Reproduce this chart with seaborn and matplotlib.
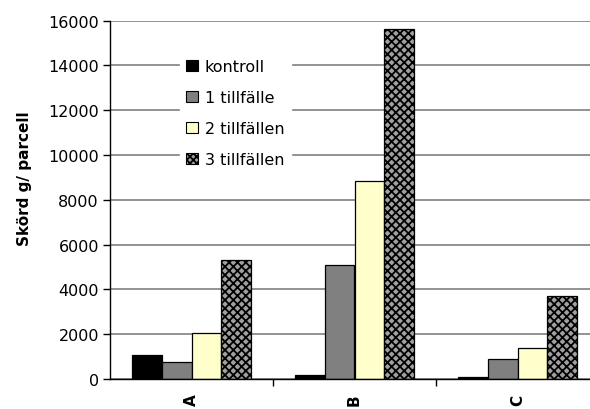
import matplotlib
matplotlib.use("Agg")
import matplotlib.pyplot as plt
from matplotlib.patches import Patch
import seaborn as sns
import pandas as pd

# Harvest per plot for three sites and four treatments
categories = ["A", "B", "C"]
series = ["kontroll", "1 tillfälle", "2 tillfällen", "3 tillfällen"]
kontroll = [1050, 200, 100]
tillfalle_1 = [750, 5100, 900]
tillfallen_2 = [2050, 8850, 1400]
tillfallen_3 = [5300, 15600, 3700]
y_ticks = [0, 2000, 4000, 6000, 8000, 10000, 12000, 14000, 16000]

colors = ["#000000", "#808080", "#FFFFCC", "#A0A0A0"]

values = [kontroll, tillfalle_1, tillfallen_2, tillfallen_3]
rows = []
for s, vals in zip(series, values):
    for c, v in zip(categories, vals):
        rows.append({"plats": c, "behandling": s, "skord": v})
df = pd.DataFrame(rows)

sns.set_style("white")
plt.rcParams["font.family"] = ["DejaVu Sans"]
plt.rcParams["text.color"] = "black"
plt.rcParams["axes.labelcolor"] = "black"
plt.rcParams["xtick.color"] = "black"
plt.rcParams["ytick.color"] = "black"
plt.rcParams["hatch.color"] = "#1a1a1a"
plt.rcParams["hatch.linewidth"] = 1.3

fig = plt.figure(figsize=(5.9, 4.1), dpi=100)
ax = fig.add_axes([110 / 590, 30 / 410, 480 / 590, 358.5 / 410])

sns.barplot(data=df, x="plats", y="skord", hue="behandling", order=categories,
            hue_order=series, palette=colors, saturation=1, width=0.73,
            edgecolor="black", linewidth=0.9, ax=ax, legend=False, errorbar=None)

# Cross-hatch the last treatment
n = len(categories)
for p in ax.patches[3 * n:4 * n]:
    p.set_hatch("xxxx")

ax.set_ylim(0, 16000)
ax.set_xlim(-0.5, 480 / 163 - 0.5)
ax.set_yticks(y_ticks)
ax.set_yticklabels([str(t) for t in y_ticks], fontsize=11.5, color="black")
ax.yaxis.grid(True, color="#808080", linewidth=1.2)
ax.set_axisbelow(True)

ax.set_xticks(range(n))
ax.set_xticklabels(categories, rotation=90, fontweight="bold", fontsize=11)
ax.set_xticks([0.5, 1.5], minor=True)
ax.tick_params(axis="x", which="major", length=0, pad=10.5)
ax.tick_params(axis="x", which="minor", length=5, direction="out", width=1, color="black", bottom=True)
ax.tick_params(axis="y", length=5, direction="out", width=1, color="black", left=True, pad=3)

for side in ["top", "right"]:
    ax.spines[side].set_visible(False)
for side in ["left", "bottom"]:
    ax.spines[side].set_color("black")
    ax.spines[side].set_linewidth(1)

ax.set_xlabel("")
ax.set_ylabel("Skörd g/ parcell", fontweight="bold", fontsize=11, color="black")
ax.yaxis.set_label_coords((32 - 110) / 480, (380 - 179) / 358.5)

handles = []
for s, col in zip(series, colors):
    if s == "3 tillfällen":
        h = Patch(facecolor=col, edgecolor="black", linewidth=0.8, hatch="xxxxx")
    else:
        h = Patch(facecolor=col, edgecolor="black", linewidth=0.8)
    handles.append(h)
leg = ax.legend(handles=handles, labels=series, loc="upper left",
                bbox_to_anchor=(70 / 480, (380 - 54) / 358.5), frameon=True,
                fancybox=False, framealpha=1, edgecolor="white", fontsize=11.5,
                handlelength=0.7, handleheight=0.7, handletextpad=0.45,
                labelspacing=1.0, borderpad=0.4, borderaxespad=0,
                labelcolor="black")

fig.savefig("out.png", dpi=100)
